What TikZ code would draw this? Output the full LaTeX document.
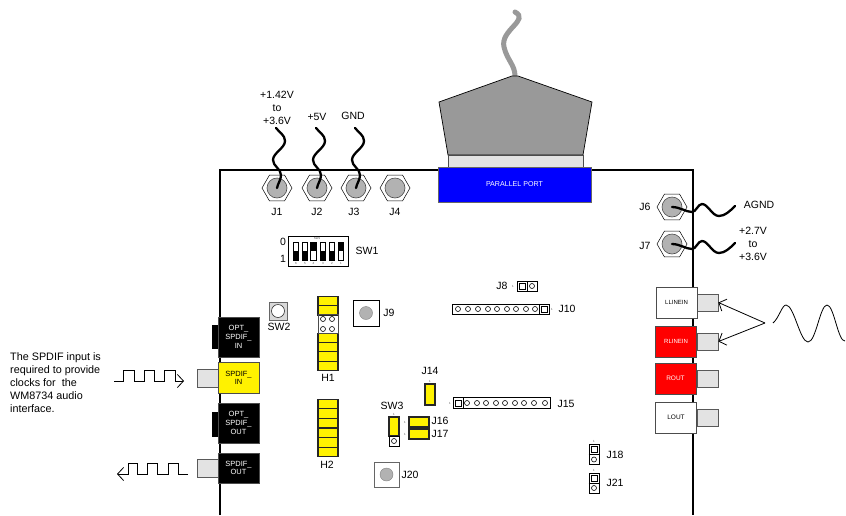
\documentclass[tikz,border=0pt]{standalone}
\usepackage{fontspec}
\setmainfont{Liberation Sans}
\usetikzlibrary{shapes.geometric,arrows.meta}
\definecolor{plugfill}{gray}{0.89}
\definecolor{metal}{gray}{0.7}
\definecolor{cablegray}{gray}{0.6}
\tikzset{
  lbl/.style={font=\fontsize{10.5}{13}\selectfont,inner sep=0,align=center},
  tiny/.style={font=\fontsize{3}{3}\selectfont,inner sep=0,text=black!70},
  jacktext/.style={font=\fontsize{7.5}{8.7}\selectfont,inner sep=0,align=center},
  hexnut/.style={regular polygon,regular polygon sides=6,draw,fill=white,minimum size=30pt,inner sep=0,line width=.5pt},
  metalpin/.style={circle,draw=black!70,fill=metal,minimum size=20pt,inner sep=0,line width=.6pt},
  wire/.style={line width=2.3pt,line cap=round},
  box/.style={rectangle,draw,inner sep=0,line width=.7pt},
  jack/.style={box,minimum width=41pt,minimum height=31pt,draw=black!70,line width=1pt},
  plug/.style={box,fill=plugfill,minimum width=21pt,minimum height=18pt,draw=black!65,line width=.8pt},
  jumper/.style={box,fill=yellow,draw=black!85,line width=1.1pt},
  pad/.style={rectangle,draw,inner sep=0,minimum size=6pt,line width=.7pt},
  hole/.style={circle,draw,inner sep=0,minimum size=5pt,line width=.6pt},
  barb/.style={-{Straight Barb[length=6pt,width=13pt,line width=.8pt]},line width=.8pt},
  square/.style={box,minimum size=26pt,line width=.7pt},
}
\begin{document}
\begin{tikzpicture}[x=1pt,y=-1pt]
\useasboundingbox (0,0) rectangle (846,515);

% board outline
\coordinate (bl) at (220,515);
\coordinate (tl) at (220,170);
\coordinate (tr) at (693,170);
\coordinate (br) at (693,515);
\draw[line width=2pt] (bl) -- (tl) -- (tr) -- (br);

% parallel port with its cable
\draw[cablegray,line width=5pt,line cap=round] (515,12) .. controls (530,20) and (500,30) .. (504,47) .. controls (507,60) and (515,65) .. (515,76);
\fill[cablegray,draw=black,line width=.7pt] (448,155) -- (439,102) -- (512,76) -- (518,76) -- (592,102) -- (583,155) -- cycle;
\node[box,fill=plugfill,minimum width=135pt,minimum height=12pt,draw=black!70] (neck) at (515.5,161) {};
\node[box,fill=blue,minimum width=153pt,minimum height=35pt,draw=black!60,text=white,font=\fontsize{7.1}{8}\selectfont] (pport) at (514.5,184.5) {PARALLEL PORT};

% power posts
\foreach \name/\cx in {j1/277,j2/317,j3/356,j4/395}{
  \node[hexnut] (\name) at (\cx,188) {};
  \node[metalpin] (\name pin) at (\cx,188) {};
}
\node[lbl] (j1lbl) at (277,212) {J1};
\node[lbl] (j2lbl) at (317,212) {J2};
\node[lbl] (j3lbl) at (354,212) {J3};
\node[lbl] (j4lbl) at (395,212) {J4};
\foreach \name/\cx in {j1/277,j2/317,j3/356}{
  \begin{scope}[shift={(\cx,188)}]
    \draw[wire] (\name.center) .. controls (1,-5) and (4,-8) .. (4,-13) .. controls (4,-19) and (-4,-22) .. (-4,-28) .. controls (-4,-35) and (8,-40) .. (8,-47) .. controls (8,-53) and (2,-56) .. (-1,-60);
  \end{scope}
}
\node[lbl] (v142) at (277,108) {+1.42V\\to\\+3.6V};
\node[lbl] (v5) at (317,117) {+5V};
\node[lbl] (gnd) at (353,116) {GND};

% analog posts
\foreach \name/\cy in {j6/207,j7/244}{
  \node[hexnut] (\name) at (672,\cy) {};
  \node[metalpin] (\name pin) at (672,\cy) {};
  \begin{scope}[shift={(672,\cy)}]
    \draw[wire] (\name.center) .. controls (8,0) and (14,5) .. (20,5) .. controls (24,5) and (26,-3) .. (30,-3) .. controls (36,-3) and (40,9) .. (47,9) .. controls (53,9) and (58,4) .. (63,-1);
  \end{scope}
}
\node[lbl] (j6lbl) at (645,207) {J6};
\node[lbl] (j7lbl) at (645,246) {J7};
\node[lbl] (agnd) at (759,205) {AGND};
\node[lbl] (v27) at (753,244) {+2.7V\\to\\+3.6V};

% dip switch
\node[box,minimum width=60pt,minimum height=30pt] (sw1) at (318,251) {};
\node[tiny] (sw1on) at (317,238.5) {SW1};
\foreach \i/\cx/\low in {6/296/1,5/305/1,4/313.5/0,3/323/1,2/332/1,1/341/0}{
  \node[box,minimum width=5.5pt,minimum height=18pt] (dip\i) at (\cx,251) {};
  \ifnum\low=1
    \fill (dip\i.west) rectangle (dip\i.south east);
  \else
    \fill (dip\i.north west) rectangle (dip\i.east);
  \fi
  \node[tiny] (dipn\i) at (\cx,263) {\i};
}
\node[lbl] (sw1zero) at (283,242) {0};
\node[lbl] (sw1one) at (283,259) {1};
\node[lbl] (sw1lbl) at (367,251) {SW1};

% spdif jacks
\node[plug] (inplug) at (207.5,378) {};
\node[plug] (outplug) at (207.5,468) {};
\fill (212,325) rectangle (220,349);
\fill (212,412) rectangle (220,437);
\node[jack,fill=black,minimum height=40pt] (optin) at (238.5,337) {};
\node[jacktext,text=white] (optintxt) at (238.5,337) {OPT\_\\SPDIF\_\\IN};
\node[jack,fill=yellow] (spdifin) at (238.5,378) {};
\node[jacktext] (spdifintxt) at (238.5,378) {SPDIF\_\\IN};
\node[jack,fill=black,minimum height=40pt] (optout) at (238.5,423) {};
\node[jacktext,text=white] (optouttxt) at (238.5,423) {OPT\_\\SPDIF\_\\OUT};
\node[jack,fill=black,minimum height=30pt] (spdifout) at (238.5,468) {};
\node[jacktext,text=white] (spdifouttxt) at (238.5,468) {SPDIF\_\\OUT};

% text and square waves
\node[lbl,font=\fontsize{10.8}{13}\selectfont,align=left,anchor=north west] (note) at (10,352) {The SPDIF input is\\required to provide\\clocks for\ \ the\\WM8734 audio\\interface.};
\coordinate (wavein) at (114,381);
\coordinate (inend) at (184,381);
\draw[barb] (wavein) -- ++(9,0) -- ++(0,-11) -- ++(11,0) -- ++(0,11) -- ++(10,0) -- ++(0,-11) -- ++(10,0) -- ++(0,11) -- ++(10,0) -- ++(0,-11) -- ++(11,0) -- ++(0,11) -- (inend);
\coordinate (waveout) at (188,474);
\coordinate (outend) at (117,474);
\draw[barb] (waveout) -- ++(-10,0) -- ++(0,-11) -- ++(-10,0) -- ++(0,11) -- ++(-11,0) -- ++(0,-11) -- ++(-10,0) -- ++(0,11) -- ++(-10,0) -- ++(0,-11) -- ++(-9,0) -- ++(0,11) -- (outend);

% small parts on the left
\node[box,minimum size=18pt,fill=black!15,draw=black!60,line width=1pt] (sw2) at (278,311) {};
\node[circle,draw=black!80,fill=white,minimum size=13pt,inner sep=0,line width=.6pt] (sw2btn) at (278,311) {};
\node[lbl] (sw2lbl) at (279,327) {SW2};

% h1 header
\foreach \i/\cy in {1/301,2/310.5,3/338,4/347,5/356.5,6/366}{
  \node[jumper,minimum width=20pt,minimum height=9.5pt] (hone\i) at (328,\cy) {};
}
\node[box,minimum width=20pt,minimum height=18.5pt,draw=black!70] (honeopen) at (328,324) {};
\foreach \cx in {323,332}{\foreach \cy in {319,329}{
  \node[hole] (hh\cx\cy) at (\cx,\cy) {};
}}
\node[lbl] (h1lbl) at (328,378) {H1};

% h2 header
\foreach \i/\cy in {1/404,2/413.5,3/423,4/433,5/442.5,6/452}{
  \node[jumper,minimum width=20pt,minimum height=9.5pt] (htwo\i) at (328,\cy) {};
}
\node[lbl] (h2lbl) at (327,465) {H2};

% test points
\node[square] (j9) at (366,313) {};
\node[circle,draw=black!50,fill=metal,minimum size=13pt,inner sep=0] (j9pin) at (366,313) {};
\node[lbl] (j9lbl) at (389,313) {J9};
\node[square,minimum size=25pt,draw=black!60,line width=1pt] (j20) at (386.5,474.5) {};
\node[circle,draw=black!50,fill=metal,minimum size=13pt,inner sep=0] (j20pin) at (386.5,474.5) {};
\node[lbl] (j20lbl) at (410,475) {J20};

% pin headers
\node[box,minimum width=20pt,minimum height=10pt] (j8) at (527,286) {};
\draw (527,281) -- (527,291);
\node[pad] (j8a) at (522,286) {};
\node[hole] (j8b) at (532,286) {};
\node[tiny] (j8one) at (513,286) {1};
\node[lbl] (j8lbl) at (502,286) {J8};

\node[box,minimum width=97pt,minimum height=10pt] (j10) at (500.5,309) {};
\draw (539,304) -- (539,314);
\foreach \cx in {458,468,478,488,497,507,516,526,535}{
  \node[hole] (ja\cx) at (\cx,309) {};
}
\node[pad] (j10a) at (544,309) {};
\node[tiny] (j10one) at (552,309) {1};
\node[lbl] (j10lbl) at (567,309) {J10};

\node[box,minimum width=97pt,minimum height=11pt] (j15) at (501.5,403) {};
\draw (463,397.5) -- (463,408.5);
\node[pad] (j15a) at (458,403) {};
\foreach \cx in {467,477,486,496,505,515,524,534,545}{
  \node[hole] (jb\cx) at (\cx,403) {};
}
\node[tiny] (j15one) at (450,403) {1};
\node[lbl] (j15lbl) at (566,404) {J15};

% jumpers
\node[jumper,minimum width=10pt,minimum height=21pt] (j14) at (430,394.5) {};
\node[tiny] (j14one) at (430,381) {1};
\node[lbl] (j14lbl) at (430,371) {J14};
\node[jumper,minimum width=10pt,minimum height=19pt] (sw3) at (394,426.5) {};
\node[box,minimum width=10pt,minimum height=10pt] (sw3low) at (394,441) {};
\node[hole] (sw3hole) at (394,441) {};
\node[tiny] (sw3one) at (394,414) {1};
\node[lbl] (sw3lbl) at (392,406) {SW3};
\node[jumper,minimum width=20pt,minimum height=10pt] (j16) at (419,422) {};
\node[tiny] (j16one) at (405,422) {1};
\node[lbl] (j16lbl) at (440,421) {J16};
\node[jumper,minimum width=20pt,minimum height=10pt] (j17) at (419,434) {};
\node[tiny] (j17one) at (405,434) {1};
\node[lbl] (j17lbl) at (440,434) {J17};

\foreach \name/\cy/\txt in {j18/454.5/J18,j21/483/J21}{
  \node[box,minimum width=10pt,minimum height=20pt] (\name) at (594,\cy) {};
  \draw (\name.west) -- (\name.east);
  \node[pad] (\name a) at (594,\cy-5) {};
  \node[hole] (\name b) at (594,\cy+5) {};
  \node[tiny] (\name one) at (594,\cy-13) {1};
  \node[lbl] (\name lbl) at (615,\cy) {\txt};
}

% audio jacks
\foreach \name/\cy in {lline/302.5,rline/341.5,rout/378.5,lout/417.5}{
  \node[plug,minimum height=17pt] (\name plug) at (707.5,\cy) {};
}
\node[jack,fill=white] (llinein) at (676.5,302.5) {};
\node[jacktext,font=\fontsize{6}{7}\selectfont] (llinetxt) at (676.5,302.5) {LLINEIN};
\node[jack,fill=red] (rlinein) at (676,341.5) {};
\node[jacktext,font=\fontsize{6}{7}\selectfont,text=white] (rlinetxt) at (676,341.5) {RLINEIN};
\node[jack,fill=red] (routj) at (675.5,378.5) {};
\node[jacktext,font=\fontsize{6.5}{8}\selectfont,text=white] (routtxt) at (675.5,378.5) {ROUT};
\node[jack,fill=white] (loutj) at (676,417.5) {};
\node[jacktext,font=\fontsize{6.5}{8}\selectfont] (louttxt) at (676,417.5) {LOUT};

% sine source
\coordinate (split) at (765,323);
\draw[barb] (split) -- (llineplug.east);
\draw[barb] (split) -- (rlineplug.east);
\coordinate (sinestart) at (773,323);
\draw[line width=.8pt] (sinestart) .. controls (779,318) and (782,305) .. (786,305) .. controls (794,305) and (800,342) .. (808,342) .. controls (816,342) and (820,305) .. (827,305) .. controls (834,305) and (838,342) .. (845,341);
\end{tikzpicture}
\end{document}
